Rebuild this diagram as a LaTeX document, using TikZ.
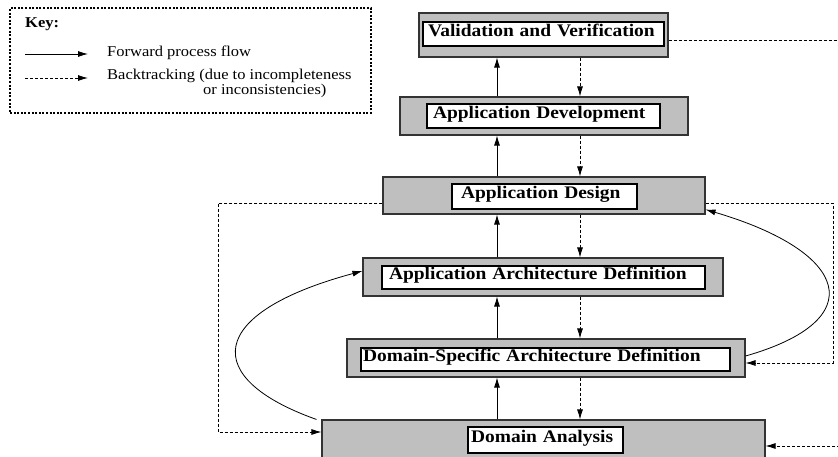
\documentclass[tikz,border=0pt]{standalone}
\usepackage{fontspec}
\setmainfont{Liberation Serif}[FakeStretch=1.1]
\usetikzlibrary{arrows.meta}

\begin{document}
\begin{tikzpicture}[
            x=1pt, y=-1pt,
            stage_outer/.style={rectangle, draw=black!80, fill=black!25, line width=1.1pt, inner sep=0pt},
            stage_inner/.style={rectangle, draw, fill=white, line width=1.1pt, inner ysep=0pt, align=left, font=\fontsize{17.7}{20}\selectfont\bfseries, text height=0.68em, text depth=0.22em},
            forward_flow/.style={-{Latex[length=10pt,width=6pt]}, line width=0.8pt, black},
            back_flow/.style={-{Latex[length=10pt,width=6pt]}, line width=0.8pt, dash pattern=on 3pt off 2pt, black},
            key_frame/.style={rectangle, draw, line width=2pt, dash pattern=on 2pt off 1.6pt, inner sep=0pt},
            key_text/.style={anchor=base west, inner sep=0pt, font=\fontsize{15}{17}\selectfont}
        ]
        \useasboundingbox (0,0) rectangle (838,457);
        \clip (0,0) rectangle (838,457);

        % key
        \node[key_frame, minimum width=361pt, minimum height=105pt] (key) at (190.5,60.5) {};
        \node[key_text, font=\fontsize{15}{17}\selectfont\bfseries] (key_title) at (25,28) {Key:};
        \coordinate (key_solid_a) at (25,54);
        \coordinate (key_solid_b) at (88,54);
        \coordinate (key_dotted_a) at (25,78);
        \coordinate (key_dotted_b) at (88,78);
        \node[key_text] (key_forward) at (107,57) {Forward process flow};
        \node[key_text] (key_back) at (107,80) {Backtracking (due to incompleteness};
        \node[key_text] (key_back_more) at (203,95) {or inconsistencies)};
        \draw[forward_flow] (key_solid_a) -- (key_solid_b);
        \draw[back_flow] (key_dotted_a) -- (key_dotted_b);

        % stages
        \node[stage_outer, minimum width=249pt, minimum height=44pt] (val_outer) at (543.5,35) {};
        \node[stage_inner, inner xsep=5pt, text width=231pt, minimum height=24pt] (val) at (543.5,34) {Validation and Verification};
        \node[stage_outer, minimum width=288pt, minimum height=38pt] (devel_outer) at (544,116) {};
        \node[stage_inner, inner xsep=6pt, text width=221pt, minimum height=24pt] (devel) at (543.5,116) {Application Development};
        \node[stage_outer, minimum width=322pt, minimum height=37pt] (design_outer) at (544,195.5) {};
        \node[stage_inner, inner xsep=9pt, text width=167pt, minimum height=25pt] (design) at (544.5,196.5) {Application Design};
        \node[stage_outer, minimum width=360pt, minimum height=38pt] (arch_outer) at (543,277) {};
        \node[stage_inner, inner xsep=7pt, text width=309pt, minimum height=23pt] (arch) at (543.5,277.5) {Application Architecture Definition};
        \node[stage_outer, minimum width=398pt, minimum height=38pt] (dsad_outer) at (546,358) {};
        \node[stage_inner, inner xsep=2pt, text width=365pt, minimum height=23pt] (dsad) at (545.5,359.5) {Domain-Specific Architecture Definition};
        \node[stage_outer, minimum width=443pt, minimum height=50pt] (da_outer) at (543.5,445) {};
        \node[stage_inner, inner xsep=3pt, text width=149pt, minimum height=26pt] (da) at (545.5,440) {Domain Analysis};

        \coordinate (up_x) at (497,0);
        \coordinate (down_x) at (580,0);
        \coordinate (left_rail) at (218,0);
        \coordinate (right_rail) at (833,0);
        \coordinate (right_edge) at (845,0);

        % forward flow
        \draw[forward_flow] (devel_outer.north -| up_x) -- (val_outer.south -| up_x);
        \draw[forward_flow] (design_outer.north -| up_x) -- (devel_outer.south -| up_x);
        \draw[forward_flow] (arch_outer.north -| up_x) -- (design_outer.south -| up_x);
        \draw[forward_flow] (dsad_outer.north -| up_x) -- (arch_outer.south -| up_x);
        \draw[forward_flow] (da_outer.north -| up_x) -- (dsad_outer.south -| up_x);
        \draw[forward_flow] ([yshift=2pt]dsad_outer.east) .. controls (872,320) and (850,252) .. ([yshift=5pt]design_outer.south east);
        \draw[forward_flow] ([xshift=-5pt]da_outer.north west) .. controls (200,378) and (206,313) .. ([yshift=6pt]arch_outer.west);

        % backtracking
        \draw[back_flow] (val_outer.south -| down_x) -- (devel_outer.north -| down_x);
        \draw[back_flow] (devel_outer.south -| down_x) -- (design_outer.north -| down_x);
        \draw[back_flow] (design_outer.south -| down_x) -- (arch_outer.north -| down_x);
        \draw[back_flow] (arch_outer.south -| down_x) -- (dsad_outer.north -| down_x);
        \draw[back_flow] (dsad_outer.south -| down_x) -- (da_outer.north -| down_x);

        \coordinate (val_exit) at ([yshift=-5pt]val_outer.east);
        \coordinate (design_exit_r) at ([yshift=-7.5pt]design_outer.east);
        \coordinate (design_exit_l) at ([yshift=-7.5pt]design_outer.west);
        \coordinate (dsad_entry) at ([yshift=-5pt]dsad_outer.east);
        \coordinate (da_entry_l) at ([yshift=13pt]da_outer.west);
        \coordinate (da_entry_r) at ([yshift=-1pt]da_outer.east);

        \draw[back_flow, -] (val_exit) -- (val_exit -| right_edge);
        \draw[back_flow] (design_exit_r) -| (right_rail |- dsad_entry) -- (dsad_entry);
        \draw[back_flow] (design_exit_l) -| (left_rail |- da_entry_l) -- (da_entry_l);
        \draw[back_flow] (da_entry_r -| right_edge) -- (da_entry_r);

        \end{tikzpicture}
\end{document}
